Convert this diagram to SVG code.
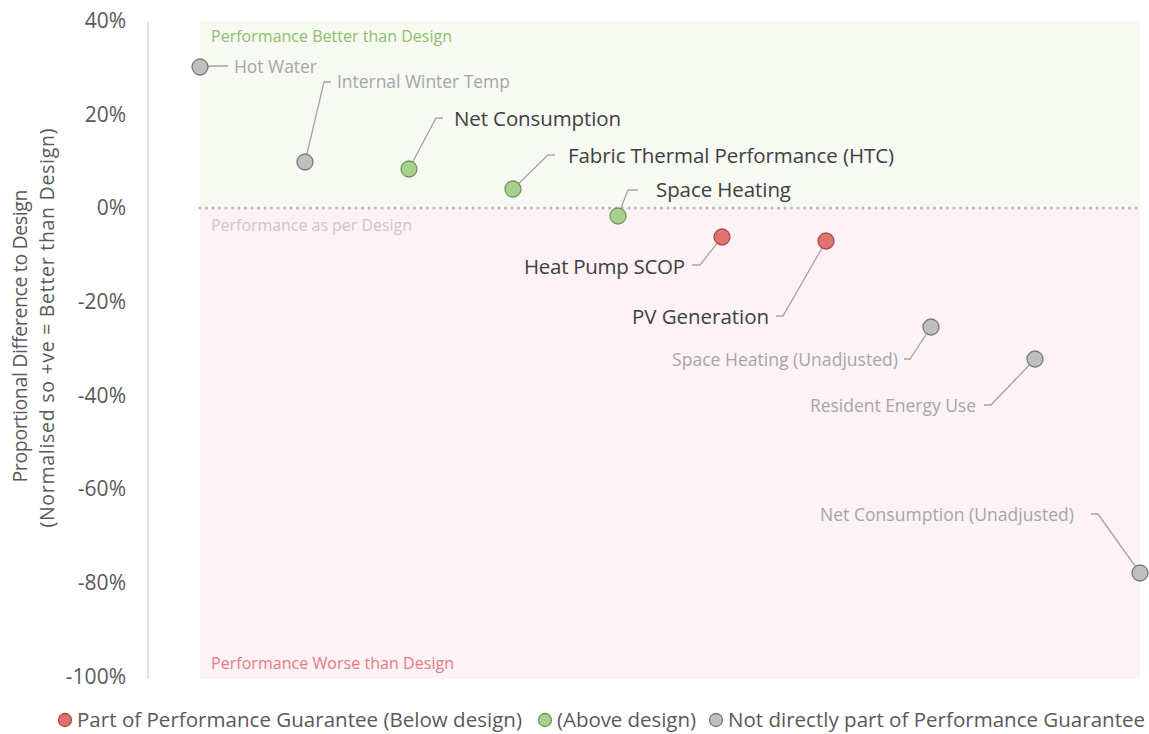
<svg xmlns="http://www.w3.org/2000/svg" width="1149" height="734" viewBox="0 0 1149 734">
<style>
text{font-family:"Open Sans","Noto Sans","Liberation Sans",sans-serif}
.tick{font-size:21px;fill:#595959;text-anchor:end}
.ax{font-size:19.5px;fill:#595959;text-anchor:middle}
.lbl{font-size:20.5px;fill:#404040}
.lbl2{font-size:17.5px;fill:#a6a6a6}
.lead{fill:none;stroke:#a6a6a6;stroke-width:1.3}
.red{fill:#e07272;stroke:#a64d4d;stroke-width:1.3}
.grn{fill:#a9d18e;stroke:#6f9858;stroke-width:1.3}
.gry{fill:#bfbfbf;stroke:#7a7a7a;stroke-width:1.3}
.leg{font-size:20.5px;fill:#595959}
.reg{font-size:16px}
</style>
<rect width="1149" height="734" fill="#ffffff"/>
<g id="regions">
<rect x="200" y="21" width="940" height="187" fill="#f7f9f3"/>
<rect x="200" y="208" width="940" height="471" fill="#fdf2f5"/>
<line x1="200" y1="208" x2="1140" y2="208" stroke="#b8b8b8" stroke-width="3" stroke-dasharray="0 6.5" stroke-linecap="round"/>
<text class="reg" x="211" y="42" fill="#8cc06b" textLength="241">Performance Better than Design</text>
<text class="reg" x="211" y="231" fill="#c9c9c9" textLength="201">Performance as per Design</text>
<text class="reg" x="211" y="669" fill="#e77a82" textLength="243">Performance Worse than Design</text>
</g>
<g id="axis">
<line x1="148" y1="22" x2="148" y2="679" stroke="#d9d9d9" stroke-width="1.5"/>
<text class="tick" x="126" y="28">40%</text>
<text class="tick" x="126" y="122">20%</text>
<text class="tick" x="126" y="215">0%</text>
<text class="tick" x="126" y="309">-20%</text>
<text class="tick" x="126" y="403">-40%</text>
<text class="tick" x="126" y="496">-60%</text>
<text class="tick" x="126" y="590">-80%</text>
<text class="tick" x="126" y="684">-100%</text>
<text class="ax" transform="translate(27,336) rotate(-90)" textLength="293">Proportional Difference to Design</text>
<text class="ax" transform="translate(54,328) rotate(-90)" textLength="399">(Normalised so +ve = Better than Design)</text>
</g>
<g id="connectors">
<polyline class="lead" points="202,67 213,66 228,66"/>
<polyline class="lead" points="305,162 324,82 331,82"/>
<polyline class="lead" points="409,169 436,118 443,118"/>
<polyline class="lead" points="513,189 548,155 555,155"/>
<polyline class="lead" points="618,216 628,190 638,190"/>
<polyline class="lead" points="722,237 700,265 692,265"/>
<polyline class="lead" points="826,241 783,316 776,316"/>
<polyline class="lead" points="931,327 910,359 904,359"/>
<polyline class="lead" points="1035,359 991,405 984,405"/>
<polyline class="lead" points="1140,573 1098,514 1091,514"/>
</g>
<g id="hot-water"><circle class="gry" cx="200" cy="67" r="8"/><text class="lbl2" x="234" y="73" textLength="83">Hot Water</text></g>
<g id="internal-winter-temp"><circle class="gry" cx="305" cy="162" r="8"/><text class="lbl2" x="337" y="88" textLength="173">Internal Winter Temp</text></g>
<g id="net-consumption"><circle class="grn" cx="409" cy="169" r="8"/><text class="lbl" x="454" y="126" textLength="167">Net Consumption</text></g>
<g id="fabric-thermal"><circle class="grn" cx="513" cy="189" r="8"/><text class="lbl" x="568" y="163" textLength="326">Fabric Thermal Performance (HTC)</text></g>
<g id="space-heating"><circle class="grn" cx="618" cy="216" r="8"/><text class="lbl" x="656" y="197" textLength="135">Space Heating</text></g>
<g id="heat-pump-scop"><circle class="red" cx="722" cy="237" r="8"/><text class="lbl" x="524" y="274" textLength="161">Heat Pump SCOP</text></g>
<g id="pv-generation"><circle class="red" cx="826" cy="241" r="8"/><text class="lbl" x="632" y="324" textLength="137">PV Generation</text></g>
<g id="space-heating-unadjusted"><circle class="gry" cx="931" cy="327" r="8"/><text class="lbl2" x="672" y="366" textLength="226">Space Heating (Unadjusted)</text></g>
<g id="resident-energy-use"><circle class="gry" cx="1035" cy="359" r="8"/><text class="lbl2" x="810" y="412" textLength="166">Resident Energy Use</text></g>
<g id="net-consumption-unadjusted"><circle class="gry" cx="1140" cy="573" r="8"/><text class="lbl2" x="820" y="521" textLength="254">Net Consumption (Unadjusted)</text></g>
<g id="legend">
<circle class="red" cx="65" cy="720" r="6.5"/>
<text class="leg" x="77" y="727" textLength="445">Part of Performance Guarantee (Below design)</text>
<circle class="grn" cx="545" cy="720" r="6.5"/>
<text class="leg" x="557" y="727" textLength="139">(Above design)</text>
<circle class="gry" cx="716" cy="720" r="6.5"/>
<text class="leg" x="728" y="727" textLength="417">Not directly part of Performance Guarantee</text>
</g>
</svg>
